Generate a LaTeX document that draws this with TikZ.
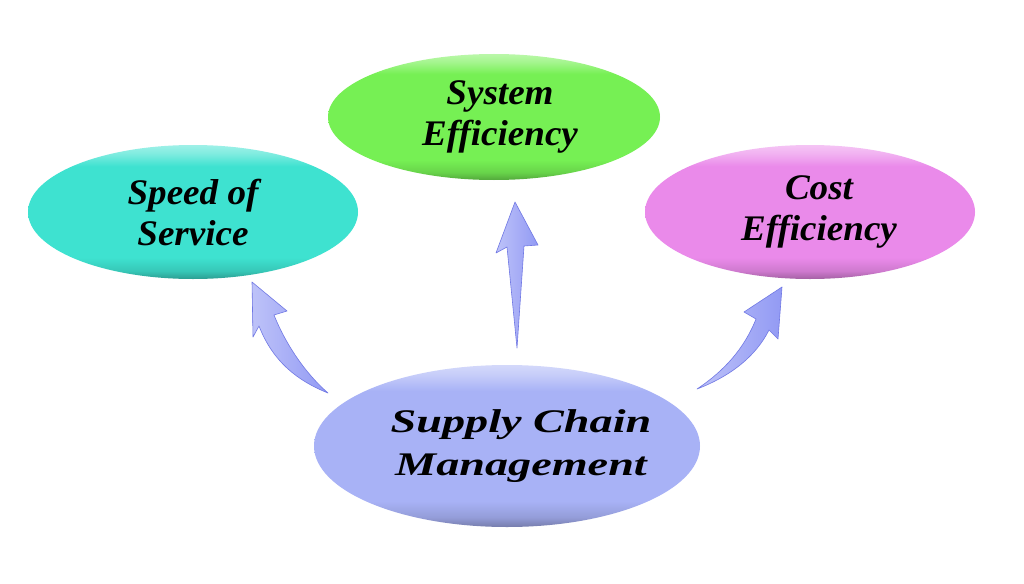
\documentclass[tikz,border=0pt]{standalone}
\usepackage{fontspec}
\setmainfont{Liberation Serif}
\newfontfamily\bubblefont[FakeStretch=1.03]{Liberation Serif}
\newfontfamily\scmfont[FakeStretch=1.4]{Liberation Serif}
\usetikzlibrary{shapes.geometric}

\definecolor{speedcol}{RGB}{62,226,208}
\definecolor{systemcol}{RGB}{118,240,84}
\definecolor{costcol}{RGB}{234,138,234}
\definecolor{scmcol}{RGB}{168,178,246}
\definecolor{arrowcol}{RGB}{146,154,244}
\definecolor{arrowedge}{RGB}{112,120,228}
\colorlet{bubbletone}{white}

% bevel look of the bubbles: dark rim below, light rim above
\pgfdeclareverticalshading[bubbletone]{bevel}{100bp}{%
  color(0bp)=(bubbletone!70!black); color(25bp)=(bubbletone!70!black);
  color(28bp)=(bubbletone!88!black); color(33bp)=(bubbletone);
  color(67bp)=(bubbletone); color(72bp)=(bubbletone!65!white);
  color(75bp)=(bubbletone!50!white); color(100bp)=(bubbletone!50!white)}

% shift a line of text right without widening the bubble
\newcommand\nudge[2]{\hspace*{#1}#2\hspace*{-#1}}

\tikzset{
  bubble/.style={ellipse, inner sep=0pt, align=center, text=black,
    font=\bubblefont\fontsize{36}{41}\selectfont\bfseries\itshape,
    /utils/exec={\colorlet{bubbletone}{#1}}, shading=bevel},
  flow/.style={left color=arrowcol!60!white, right color=arrowcol,
    draw=arrowedge, line width=0.6pt, line join=round}
}

\begin{document}
\begin{tikzpicture}[x=1pt, y=-1pt]
    \fill[white] (0,0) rectangle (1024,583);
    \useasboundingbox (0,0) rectangle (1024,583);

    % the four bubbles
    \node[bubble=speedcol, minimum width=330pt, minimum height=134pt] (speed) at (193,212) {Speed of\\Service};
    \node[bubble=systemcol, minimum width=332pt, minimum height=126pt] (system) at (494,117) {\nudge{6pt}{System}\\\nudge{6pt}{Efficiency}};
    \node[bubble=costcol, minimum width=330pt, minimum height=134pt] (cost) at (810,212) {\nudge{9pt}{Cost}\\\nudge{9pt}{Efficiency}};
    \node[bubble=scmcol, minimum width=386pt, minimum height=162pt,
          font=\scmfont\fontsize{33}{43}\selectfont\bfseries\itshape] (scm) at (507,446) {\nudge{14pt}{Supply Chain}\\\nudge{14pt}{Management}};

    % arrow ends
    \coordinate (tailL) at (328,393);
    \coordinate (tipL) at (252,282);
    \coordinate (tailM) at (517,348);
    \coordinate (tipM) at (515,202);
    \coordinate (tailR) at (697,389);
    \coordinate (tipR) at (782,287);

    % left arrow
    \path[flow] (tailL) .. controls (298,381) and (273,362) .. (259,326)
        -- (253,337) -- (tipL) -- (287,311) -- (274,315)
        .. controls (286,345) and (306,374) .. (tailL) -- cycle;

    % middle arrow
    \path[flow] (tailM) -- (507,247) -- (496,253) -- (tipM)
        -- (538,245) -- (524,246) -- cycle;

    % right arrow
    \path[flow] (tailR) .. controls (724,371) and (744,349) .. (756,319)
        -- (744,312) -- (tipR) -- (778,339) -- (769,330)
        .. controls (756,356) and (731,376) .. (tailR) -- cycle;
\end{tikzpicture}
\end{document}
